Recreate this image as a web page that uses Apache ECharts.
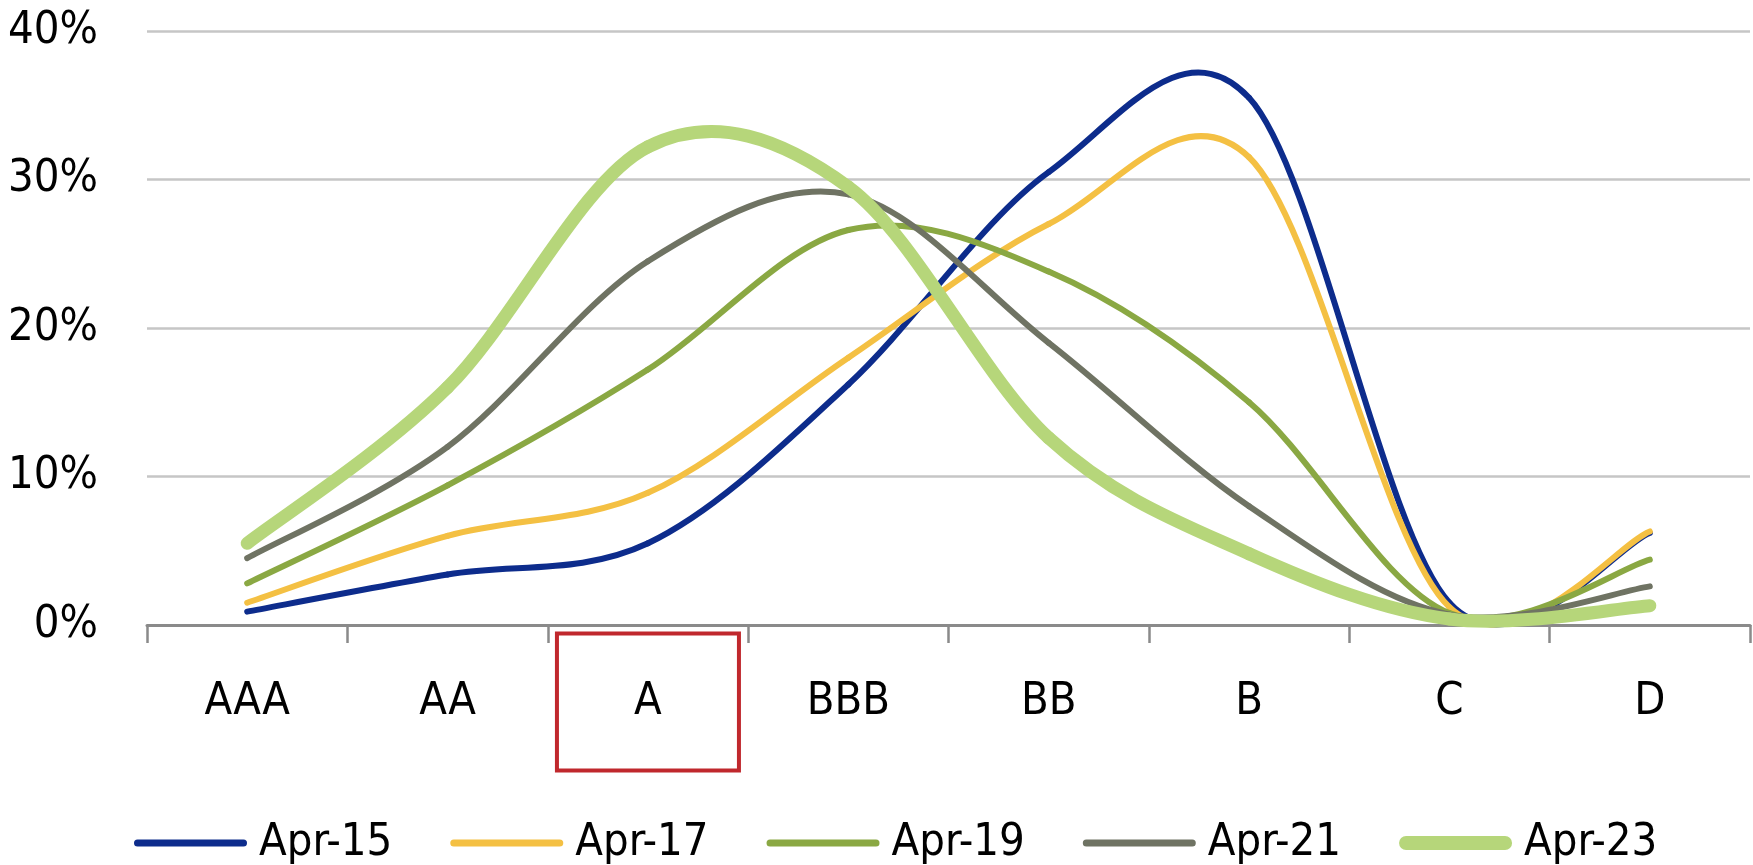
<!DOCTYPE html>
<html>
<head>
<meta charset="utf-8">
<title>Rating distribution</title>
<script src="https://cdn.jsdelivr.net/npm/echarts@6/dist/echarts.min.js"></script>
<style>
  html, body { margin: 0; padding: 0; background: #ffffff; }
  #chart { width: 1753px; height: 865px; }
</style>
</head>
<body>
<div id="chart"></div>
<script>
// Rating buckets along the x axis
const categories = ['AAA', 'AA', 'A', 'BBB', 'BB', 'B', 'C', 'D'];
// Bucket whose label is boxed
const highlighted = 'A';

// Share of issuers per rating bucket (%)
const seriesNames = ['Apr-15', 'Apr-17', 'Apr-19', 'Apr-21', 'Apr-23'];
const apr15 = [0.9, 3.4, 5.5, 16.2, 30.5, 35.5, 1.5, 6.2];
const apr17 = [1.5, 6.0, 8.9, 18.0, 27.0, 31.5, 1.2, 6.3];
const apr19 = [2.8, 9.4, 17.2, 26.6, 23.8, 15.0, 0.8, 4.4];
const apr21 = [4.5, 12.0, 24.5, 29.0, 19.0, 8.0, 0.7, 2.6];
const apr23 = [5.5, 16.0, 32.2, 29.5, 12.6, 4.8, 0.4, 1.3];

// Value axis ticks (%)
const yMin = 0;
const yMax = 40;
const yStep = 10;

const FONT = "'Liberation Sans Narrow', 'DejaVu Sans Condensed', sans-serif";
const FONT_SIZE = 45;
const colors = ['#0d2c8c', '#f4c043', '#8aa843', '#6f7363', '#b6d67a'];
const widths = [6, 6, 6, 6, 13];
const legendWidths = [7, 7, 7, 7, 14];
const values = [apr15, apr17, apr19, apr21, apr23];

// Horizontal stroke with round ends, used as the legend key
function legendStroke(len, t) {
  const r = t / 2;
  return 'path://M' + r + ',0 H' + (len - r) +
    ' A' + r + ',' + r + ' 0 0 1 ' + (len - r) + ',' + t +
    ' H' + r + ' A' + r + ',' + r + ' 0 0 1 ' + r + ',0 Z';
}

// Smoothed line: each data item draws the cubic segment to the next item,
// with control points taken from the neighbouring points (Catmull-Rom style).
function smoothSegment(color, width) {
  return function (params, api) {
    const i = params.dataIndexInside;
    const n = params.dataInsideLength;
    if (i >= n - 1) return null;
    const pt = function (k) {
      k = Math.max(0, Math.min(n - 1, k));
      return api.coord([api.value(0, k), api.value(1, k)]);
    };
    const p0 = pt(i - 1), p1 = pt(i), p2 = pt(i + 1), p3 = pt(i + 2);
    return {
      type: 'bezierCurve',
      silent: true,
      shape: {
        x1: p1[0], y1: p1[1],
        x2: p2[0], y2: p2[1],
        cpx1: p1[0] + (p2[0] - p0[0]) / 6,
        cpy1: p1[1] + (p2[1] - p0[1]) / 6,
        cpx2: p2[0] - (p3[0] - p1[0]) / 6,
        cpy2: p2[1] - (p3[1] - p1[1]) / 6
      },
      style: { stroke: color, lineWidth: width, fill: null, lineCap: 'round', lineJoin: 'round' }
    };
  };
}

const chart = echarts.init(document.getElementById('chart'));

chart.setOption({
  backgroundColor: '#ffffff',
  animation: false,
  grid: {
    left: 147,
    right: 3,
    top: 31,
    bottom: 240,
    outerBoundsMode: 'none'
  },
  legend: {
    left: 129,
    top: 810,
    itemWidth: 113,
    itemHeight: 14,
    itemGap: 58,
    textStyle: {
      fontFamily: FONT,
      fontSize: FONT_SIZE,
      lineHeight: 56,
      color: '#000000',
      padding: [0, 0, 0, 7]
    },
    data: seriesNames.map(function (name, i) {
      return { name: name, icon: legendStroke(113, legendWidths[i]) };
    })
  },
  xAxis: {
    type: 'category',
    data: categories,
    boundaryGap: true,
    axisLine: { show: true, lineStyle: { color: '#8a8a8a', width: 3 } },
    axisTick: { show: true, length: 18, lineStyle: { color: '#8a8a8a', width: 2.5 } },
    axisLabel: {
      interval: 0,
      margin: 77,
      verticalAlign: 'middle',
      fontFamily: FONT,
      fontSize: FONT_SIZE,
      color: '#000000',
      formatter: function (v) {
        return v === highlighted ? '{hl|' + v + '}' : v;
      },
      rich: {
        hl: {
          fontFamily: FONT,
          fontSize: FONT_SIZE,
          color: '#000000',
          width: 182,
          height: 137,
          lineHeight: 137,
          align: 'center',
          verticalAlign: 'middle',
          borderColor: '#c0282d',
          borderWidth: 4
        }
      }
    },
    splitLine: { show: false }
  },
  yAxis: {
    type: 'value',
    min: yMin,
    max: yMax,
    interval: yStep,
    axisLine: { show: false },
    axisTick: { show: false },
    axisLabel: {
      margin: 49,
      align: 'right',
      fontFamily: FONT,
      fontSize: FONT_SIZE,
      color: '#000000',
      formatter: '{value}%'
    },
    splitLine: { show: true, lineStyle: { color: '#c6c6c6', width: 2.5 } }
  },
  series: seriesNames.map(function (name, i) {
    return {
      name: name,
      type: 'custom',
      coordinateSystem: 'cartesian2d',
      clip: false,
      itemStyle: { color: colors[i] },
      encode: { x: 0, y: 1 },
      data: values[i].map(function (v, k) { return [k, v]; }),
      renderItem: smoothSegment(colors[i], widths[i]),
      z: 2 + i
    };
  })
});
</script>
</body>
</html>
